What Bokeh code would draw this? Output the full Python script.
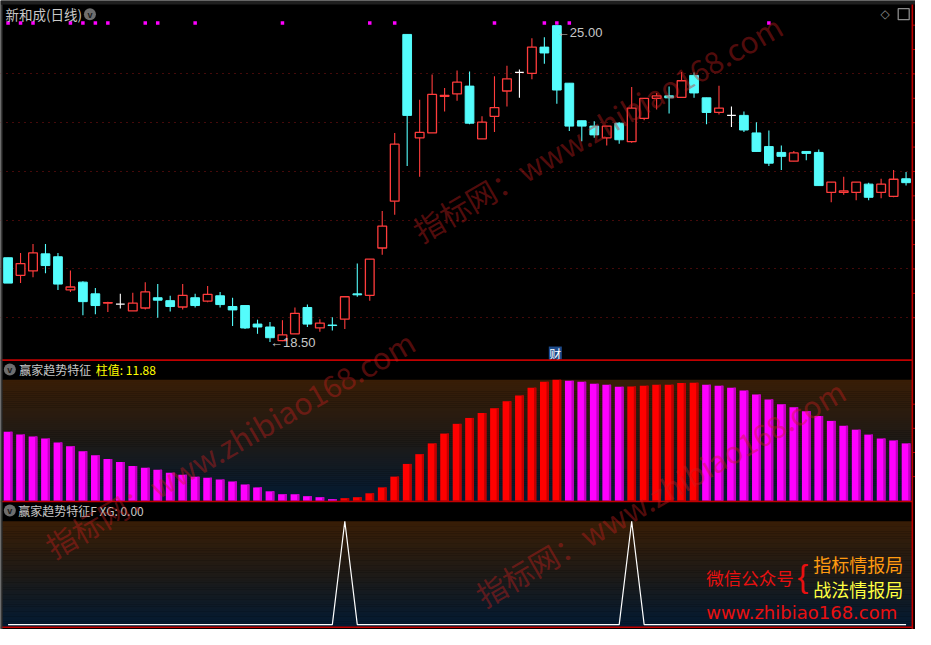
import numpy as np
from bokeh.plotting import figure
from bokeh.models import Range1d, ColumnDataSource
from bokeh.core.properties import value
from bokeh.transform import dodge
from bokeh.embed import file_html
from bokeh.resources import INLINE

# ---------------- data ----------------
stock_title = "新和成(日线)"
ind_name = "赢家趋势特征"
ind2_name = "赢家趋势特征F"

opens = [20.23, 19.87, 19.96, 20.31, 20.25, 19.57, 19.73, 19.49, 19.30, 19.28,
         19.14, 19.20, 19.41, 19.35, 19.22, 19.41, 19.34, 19.45, 19.23, 19.25,
         18.87, 18.81, 18.53, 18.67, 19.21, 18.79, 18.85, 18.97, 19.49, 19.46,
         20.43, 21.39, 24.81, 22.69, 22.79, 23.54, 23.59, 23.75, 22.67, 23.13,
         23.65, 24.03, 24.01, 24.55, 24.99, 23.81, 23.04, 22.93, 22.69, 22.99,
         22.61, 23.09, 23.50, 23.55, 23.52, 23.97, 23.51, 23.21, 23.15, 23.15,
         22.79, 22.51, 22.39, 22.21, 22.41, 22.39, 21.57, 21.57, 21.57, 21.74,
         21.57, 21.49, 21.85]
highs = [20.23, 20.33, 20.51, 20.51, 20.33, 19.97, 19.75, 19.61, 19.33, 19.49,
         19.51, 19.73, 19.69, 19.45, 19.69, 19.49, 19.65, 19.53, 19.41, 19.25,
         18.96, 18.91, 18.95, 19.21, 19.27, 18.97, 19.01, 19.43, 20.11, 20.20,
         21.19, 22.79, 24.81, 23.47, 23.99, 23.71, 24.07, 24.05, 23.13, 23.95,
         24.17, 24.09, 24.73, 24.75, 25.00, 23.81, 23.04, 23.03, 22.93, 23.01,
         23.73, 23.50, 23.61, 23.74, 24.04, 24.03, 23.51, 23.76, 23.33, 23.23,
         23.01, 22.84, 22.53, 22.42, 22.41, 22.45, 21.78, 21.89, 21.78, 21.77,
         21.85, 22.03, 21.99]
lows = [19.71, 19.71, 19.83, 19.91, 19.57, 19.53, 19.05, 19.07, 19.12, 19.19,
        19.14, 19.17, 19.00, 19.13, 19.17, 19.21, 19.32, 19.21, 18.83, 18.77,
        18.67, 18.50, 18.52, 18.67, 18.81, 18.71, 18.74, 18.77, 19.43, 19.35,
        20.29, 21.11, 22.11, 21.89, 22.79, 23.23, 23.45, 22.97, 22.67, 22.81,
        23.33, 23.51, 23.89, 24.21, 23.39, 22.83, 22.62, 22.69, 22.53, 22.57,
        22.59, 23.05, 23.27, 23.19, 23.52, 23.51, 22.97, 23.17, 22.91, 22.81,
        22.41, 22.11, 22.03, 22.21, 22.23, 21.71, 21.37, 21.52, 21.41, 21.41,
        21.45, 21.47, 21.71]
closes = [19.71, 20.11, 20.33, 20.07, 19.69, 19.63, 19.33, 19.25, 19.31, 19.28,
          19.30, 19.53, 19.36, 19.23, 19.46, 19.25, 19.48, 19.27, 19.16, 18.79,
          18.81, 18.59, 18.65, 19.09, 18.87, 18.89, 18.84, 19.43, 19.47, 20.20,
          20.88, 22.56, 23.15, 22.80, 23.58, 23.56, 23.83, 22.99, 23.01, 23.31,
          23.90, 24.03, 24.55, 24.43, 23.67, 22.93, 22.93, 22.75, 22.93, 22.65,
          23.30, 23.50, 23.55, 23.51, 23.86, 23.61, 23.21, 23.30, 23.15, 22.85,
          22.41, 22.17, 22.31, 22.38, 22.37, 21.71, 21.78, 21.60, 21.78, 21.47,
          21.74, 21.84, 21.77]

hist_vals = [14.31, 13.70, 13.30, 12.89, 12.08, 11.27, 10.26, 9.45, 8.64, 8.03,
             7.22, 6.82, 6.41, 5.81, 5.40, 5.00, 4.79, 4.39, 3.98, 3.38,
             2.77, 1.96, 1.36, 1.35, 0.95, 0.74, 0.34, 0.54, 0.74, 1.55,
             2.77, 5.00, 7.63, 9.65, 11.88, 13.91, 15.93, 17.15, 18.16, 19.17,
             20.59, 21.80, 23.42, 24.64, 25.04, 24.84, 24.64, 24.23, 24.03, 23.60,
             23.66, 23.83, 24.00, 24.05, 24.40, 24.45, 24.03, 23.83, 23.42, 22.82,
             22.01, 20.99, 19.98, 19.37, 18.56, 17.55, 16.54, 15.53, 14.72, 13.70,
             12.89, 12.49, 11.88]

xg_vals = [0, 0, 0, 0, 0, 0, 0, 0, 0, 0,
           0, 0, 0, 0, 0, 0, 0, 0, 0, 0,
           0, 0, 0, 0, 0, 0, 0, 1, 0, 0,
           0, 0, 0, 0, 0, 0, 0, 0, 0, 0,
           0, 0, 0, 0, 0, 0, 0, 0, 0, 0,
           1, 0, 0, 0, 0, 0, 0, 0, 0, 0,
           0, 0, 0, 0, 0, 0, 0, 0, 0, 0,
           0, 0, 0]

dot_idx = [0, 1, 2, 5, 6, 7, 8, 11, 12, 15, 22, 29, 31, 39, 43, 44, 45, 61]
grid_prices = [19, 20, 21, 22, 23, 24]
price_ticks = [19.0, 19.5, 20.0, 20.5, 21.0, 21.5, 22.0, 22.5, 23.0, 23.5, 24.0, 24.5, 25.0]
mid_ticks = [5, 10, 15, 20]

# ---------------- layout helpers (reference pixel frame) ----------------
W_REF, H_REF = 931.0, 645.0
n = len(opens)
idx = np.arange(n)

def y_range(v1, p1, v2, p2, size=H_REF):
    s = (p2 - p1) / (v1 - v2)
    end = v1 + p1 / s
    return Range1d(start=end - size / s, end=end)

sx = (921.4 - 7.7) / (n - 1)
x0 = -7.7 / sx
xr = Range1d(start=x0, end=x0 + W_REF / sx)

price_rng = y_range(max(highs), 25.3, min(lows), 350.3)
mid_rng = y_range(max(hist_vals), 389.0, 0.0, 513.0)
bot_rng = y_range(1.0, 534.0, 0.0, 640.0)

p = figure(width=915, height=629, x_range=xr, y_range=price_rng,
           output_backend="svg", toolbar_location=None, min_border=0,
           x_axis_type=None, y_axis_type=None,
           background_fill_color="black", border_fill_color="black",
           outline_line_color=None)
p.extra_y_ranges = {"mid": mid_rng, "bot": bot_rng, "px": Range1d(start=H_REF, end=0)}
p.extra_x_ranges = {"px": Range1d(start=0, end=W_REF)}

CJK = value("Noto Sans CJK SC")
SANS = value("Liberation Sans")

# ---------------- backgrounds ----------------
def gradient(ytop, ybot, steps=62):
    ys = np.linspace(ytop, ybot, steps + 1)
    t = np.linspace(0, 1, steps)
    c_top = np.array([56, 29, 6]); c_mid = np.array([30, 26, 22]); c_bot = np.array([3, 26, 50])
    cols = []
    for tt in t:
        if tt < 0.5:
            c = c_top + (c_mid - c_top) * (tt / 0.5)
        else:
            c = c_mid + (c_bot - c_mid) * ((tt - 0.5) / 0.5)
        cols.append("#%02x%02x%02x" % tuple(int(round(v)) for v in c))
    p.quad(left=2, right=927.5, top=ys[:-1], bottom=ys[1:] + 0.3, fill_color=cols,
           line_color=None, x_range_name="px", y_range_name="px")

gradient(389.0, 513.0)
gradient(534.0, 642.0)

# top tab strip
p.quad(left=0, right=W_REF, top=0, bottom=4, fill_color="#1f1f1f", line_color=None,
       x_range_name="px", y_range_name="px")

# price grid
p.hspan(y=grid_prices, line_color="#8a1414", line_dash="1 5", line_width=1)

# ---------------- candles ----------------
O = np.array(opens); C = np.array(closes)
up = C > O
dn = C < O
fl = C == O
RED, CYAN, WHITE = "#ff3c3c", "#54fcfc", "#ffffff"
wick_col = np.where(up, RED, np.where(dn, CYAN, WHITE))
src = ColumnDataSource(dict(x=idx, o=O, c=C, h=highs, l=lows, col=wick_col))
p.segment(x0="x", y0="l", x1="x", y1="h", line_color="col", line_width=1.1, source=src)

bw = 0.7
up_src = ColumnDataSource(dict(x=idx[up], o=O[up], c=C[up]))
dn_src = ColumnDataSource(dict(x=idx[dn], o=O[dn], c=C[dn]))
p.vbar(x="x", width=bw, top="c", bottom="o", fill_color="black", line_color=RED,
       line_width=1.3, source=up_src)
p.vbar(x="x", width=bw, top="o", bottom="c", fill_color=CYAN, line_color=CYAN,
       line_width=1, source=dn_src)
p.segment(x0=idx[fl] - bw / 2, y0=O[fl], x1=idx[fl] + bw / 2, y1=O[fl],
          line_color=WHITE, line_width=1.3)

# signal dots row
p.scatter(x=dot_idx, y=[23] * len(dot_idx), marker="square", size=3.5,
          fill_color="#ff00ff", line_color=None, y_range_name="px")

# high / low labels
i_hi = int(np.argmax(highs)); i_lo = int(np.argmin(lows))
p.text(x=[i_hi], y=[highs[i_hi]], text=["←%.2f" % highs[i_hi]], text_font=SANS,
       text_font_size="13px", text_color="#c8c8c8", text_baseline="top", text_align="left")
p.text(x=[i_lo], y=[lows[i_lo]], text=["←%.2f" % lows[i_lo]], text_font=SANS,
       text_font_size="13px", text_color="#c8c8c8", text_baseline="middle", text_align="left")

# "财" marker
p.scatter(x=[564.5], y=[361.5], marker="square", size=13, fill_color="#1d4a8a",
          line_color=None, x_range_name="px", y_range_name="px")
p.text(x=[564.5], y=[361.5], text=["财"], text_font=CJK, text_font_size="12px",
       text_color="white", text_align="center", text_baseline="middle",
       x_range_name="px", y_range_name="px")

# ---------------- histogram panel ----------------
hv = np.array(hist_vals)
rising = np.concatenate([[False], hv[1:] > hv[:-1]])
bar_col = np.where(rising, "#ff0000", "#ff00ff")
dark_col = np.where(rising, "#c00000", "#c000c0")
hsrc = ColumnDataSource(dict(x=idx, v=hv, col=bar_col, dcol=dark_col))
p.vbar(x="x", width=0.7, top="v", bottom=0, fill_color="col", line_color=None,
       source=hsrc, y_range_name="mid")
p.vbar(x=dodge("x", 0.26, range=xr), width=0.18, top="v", bottom=0, fill_color="dcol",
       line_color=None, source=hsrc, y_range_name="mid")

# ---------------- XG panel ----------------
p.line(x=idx, y=xg_vals, line_color="white", line_width=1.2, y_range_name="bot")

# ---------------- frame lines ----------------
p.segment(x0=[0, 0, 0], y0=[368.8, 513.8, 642.7], x1=[927.5] * 3, y1=[368.8, 513.8, 642.7],
          line_color="#c00000", line_width=1.6, x_range_name="px", y_range_name="px")
p.segment(x0=[927.8], y0=[4], x1=[927.8], y1=[645], line_color="#c00000", line_width=1.6,
          x_range_name="px", y_range_name="px")
p.segment(x0=[1], y0=[4], x1=[1], y1=[645], line_color="#3a3a3a", line_width=2,
          x_range_name="px", y_range_name="px")
p.segment(x0=[927.8] * len(price_ticks), y0=price_ticks, x1=[931] * len(price_ticks),
          y1=price_ticks, line_color="#c00000", line_width=1, x_range_name="px")
p.segment(x0=[927.8] * len(mid_ticks), y0=mid_ticks, x1=[931] * len(mid_ticks),
          y1=mid_ticks, line_color="#c00000", line_width=1, x_range_name="px",
          y_range_name="mid")

# ---------------- headers ----------------
def icon(cx, cy):
    p.scatter(x=[cx], y=[cy], marker="circle", size=12, fill_color="#6e6e6e",
              line_color=None, x_range_name="px", y_range_name="px")
    p.text(x=[cx], y=[cy + 0.5], text=["v"], text_font=SANS, text_font_size="9px",
           text_font_style="bold", text_color="#1a1a1a", text_align="center",
           text_baseline="middle", x_range_name="px", y_range_name="px")

p.text(x=[5], y=[13.5], text=[stock_title], text_font=CJK, text_font_size="13.5px",
       text_color="#c8c8c8", text_baseline="middle", x_range_name="px", y_range_name="px")
icon(91, 14)
p.text(x=[900], y=[14], text=["◇"], text_font=value("DejaVu Sans"), text_font_size="12px",
       text_color="#8a8a8a", text_align="center", text_baseline="middle",
       x_range_name="px", y_range_name="px")
p.scatter(x=[919], y=[14], marker="square", size=11, fill_color=None, line_color="#8a8a8a",
          line_width=1.3, x_range_name="px", y_range_name="px")

icon(9.5, 378.5)
p.text(x=[19], y=[378.5], text=[ind_name], text_font=CJK, text_font_size="12px",
       text_color="#c8c8c8", text_baseline="middle", x_range_name="px", y_range_name="px")
p.text(x=[97], y=[378.5], text=["柱值: %.2f" % hist_vals[-1]], text_font=CJK,
       text_font_size="12px", text_color="#ffff00", text_baseline="middle",
       x_range_name="px", y_range_name="px")

icon(9.5, 523)
p.text(x=[18], y=[523], text=["%s XG: %.2f" % (ind2_name, xg_vals[-1])], text_font=CJK,
       text_font_size="12px", text_color="#c8c8c8", text_baseline="middle",
       x_range_name="px", y_range_name="px")

# branding (bottom right)
p.text(x=[718], y=[592], text=["微信公众号"], text_font=CJK, text_font_size="17.5px",
       text_color="#e81010", text_baseline="middle", x_range_name="px", y_range_name="px")
p.text(x=[811], y=[590], text=["{"], text_font=SANS, text_font_size="32px",
       text_color="#e81010", text_baseline="middle", x_range_name="px", y_range_name="px")
p.text(x=[827], y=[578], text=["指标情报局"], text_font=CJK, text_font_size="18px",
       text_color="#ff9a10", text_baseline="middle", x_range_name="px", y_range_name="px")
p.text(x=[827], y=[603], text=["战法情报局"], text_font=CJK, text_font_size="18px",
       text_color="#ffff40", text_baseline="middle", x_range_name="px", y_range_name="px")
p.text(x=[718], y=[628], text=["www.zhibiao168.com"], text_font=value("DejaVu Sans"),
       text_font_size="18px", text_color="#e81010", text_baseline="middle",
       x_range_name="px", y_range_name="px")

# watermarks
wm = "指标网：www.zhibiao168.com"
p.text(x=[422, 48, 486], y=[238, 562, 612], text=[wm] * 3, text_font=CJK,
       text_font_size="30px", text_color="#c81e1e", text_alpha=0.42,
       angle=np.radians(30), text_baseline="middle", text_align="left",
       x_range_name="px", y_range_name="px")

open("out.html", "w").write(file_html(p, INLINE))
